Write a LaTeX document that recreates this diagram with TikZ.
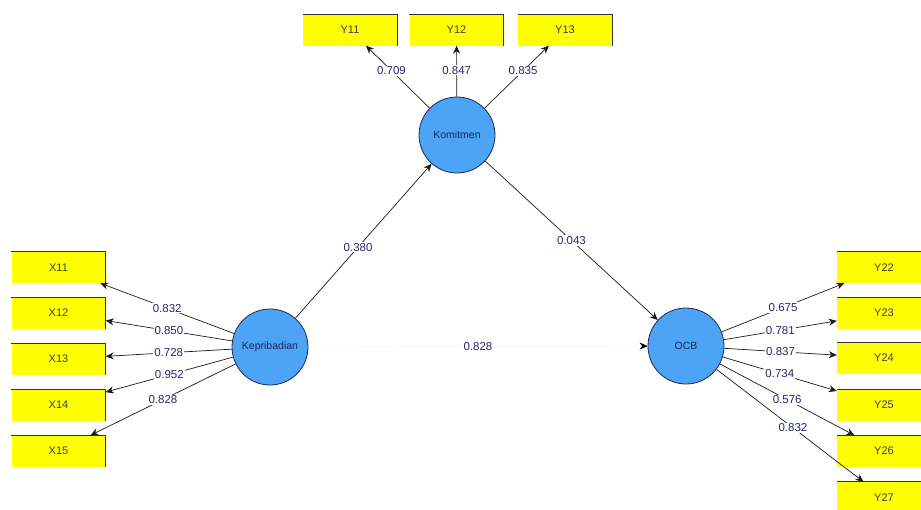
\documentclass[tikz,border=0pt]{standalone}
\usepackage{fontspec}
\setmainfont{Liberation Sans}
\usetikzlibrary{arrows.meta}
\definecolor{lvblue}{RGB}{77,163,245}
\definecolor{lvedge}{RGB}{30,40,90}
\definecolor{mvyellow}{RGB}{255,255,0}
\definecolor{numblue}{RGB}{40,40,110}
\begin{document}
\begin{tikzpicture}[x=1pt,y=-1pt,
  latent/.style={circle, fill=lvblue, draw=lvedge, line width=0.8pt, minimum size=76pt, inner sep=0pt, font=\fontsize{10.5}{11}\selectfont, text=lvedge},
  mv/.style={rectangle, fill=mvyellow, minimum width=94pt, minimum height=31pt, inner sep=0pt, font=\fontsize{11}{12}\selectfont, text=black!75},
  mvedge/.style={black!80, line width=0.9pt},
  link/.style={-{Stealth[length=8pt,width=7pt]}, line width=0.7pt, black!90},
  faintlink/.style={-{Stealth[length=8pt,width=7pt,black]}, line width=0.6pt, black!4},
  coef/.style={fill=white, inner sep=1pt, text=numblue, font=\fontsize{11.5}{12}\selectfont},
]
\useasboundingbox (0,0) rectangle (921,509);

% latent variables
\node[latent] (kom) at (457,135) {Komitmen};
\node[latent] (kep) at (270,347) {Kepribadian};
\node[latent] (ocb) at (686,346) {OCB};

% indicators
\node[mv] (y11) at (350,30) {Y11};
\node[mv] (y12) at (456.5,30) {Y12};
\node[mv] (y13) at (565,30) {Y13};

\node[mv] (x11) at (58.5,267.5) {X11};
\node[mv] (x12) at (58.5,313) {X12};
\node[mv] (x13) at (58.5,359) {X13};
\node[mv] (x14) at (58.5,405) {X14};
\node[mv] (x15) at (58.5,451) {X15};

\node[mv] (y22) at (884,267.5) {Y22};
\node[mv] (y23) at (884,313) {Y23};
\node[mv] (y24) at (884,358) {Y24};
\node[mv] (y25) at (884,405) {Y25};
\node[mv] (y26) at (884,451) {Y26};
\node[mv] (y27) at (884,497.5) {Y27};

\foreach \n in {y11,y12,y13,x11,x12,x13,x14,x15,y22,y23,y24,y25,y26,y27}
  \draw[mvedge] (\n.north west) -- (\n.north east) -- (\n.south east);

% outer loadings
\draw[link] (kom) -- node[coef,pos=0.6]{0.709} (y11);
\draw[link] (kom) -- node[coef,pos=0.52]{0.847} (y12);
\draw[link] (kom) -- node[coef,pos=0.6]{0.835} (y13);

\draw[link] (kep) -- node[coef,pos=0.5]{0.832} (x11);
\draw[link] (kep) -- node[coef,pos=0.5]{0.850} (x12);
\draw[link] (kep) -- node[coef,pos=0.5]{0.728} (x13);
\draw[link] (kep) -- node[coef,pos=0.5]{0.952} (x14);
\draw[link] (kep) -- node[coef,pos=0.5]{0.828} (x15);

\draw[link] (ocb) -- node[coef,pos=0.5]{0.675} (y22);
\draw[link] (ocb) -- node[coef,pos=0.5]{0.781} (y23);
\draw[link] (ocb) -- node[coef,pos=0.5]{0.837} (y24);
\draw[link] (ocb) -- node[coef,pos=0.5]{0.734} (y25);
\draw[link] (ocb) -- node[coef,pos=0.5]{0.576} (y26);
\draw[link] (ocb) -- node[coef,pos=0.52]{0.832} (y27);

% inner model
\draw[link] (kep) -- node[coef,pos=0.46]{0.380} (kom);
\draw[link] (kom) -- node[coef,pos=0.5]{0.043} (ocb);
\draw[faintlink] (kep) -- node[coef,pos=0.5]{0.828} (ocb);
\end{tikzpicture}
\end{document}
